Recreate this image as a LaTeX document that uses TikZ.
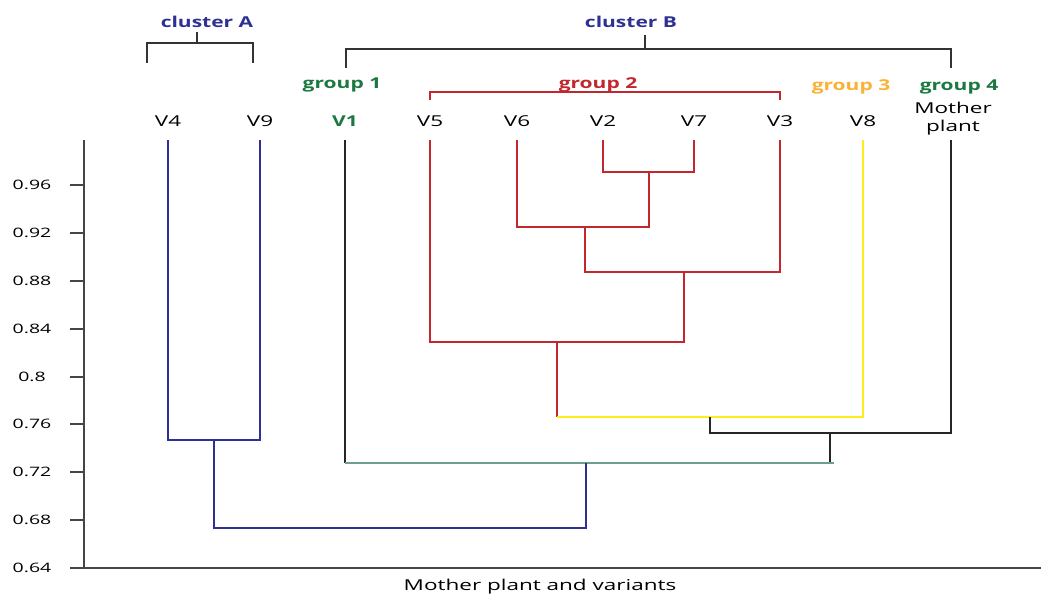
\documentclass[tikz,border=0pt]{standalone}
\usepackage{fontspec}
\setmainfont{Open Sans}
\usepackage{tikz}
\usetikzlibrary{positioning}
\definecolor{clblue}{HTML}{2E3192}
\definecolor{grred}{HTML}{C1272D}
\definecolor{gryellow}{HTML}{FFEC1A}
\definecolor{grorange}{HTML}{F9B233}
\definecolor{grgreen}{HTML}{1A7840}
\definecolor{lngreen}{HTML}{6E9E8C}
\definecolor{axgray}{HTML}{454545}

\begin{document}
\begin{tikzpicture}[x=1pt, y=-1pt,
    every node/.style={inner sep=0pt},
    lbl/.style={font=\fontsize{15}{18}\selectfont, xscale=1.5, anchor=base},
    grp/.style={font=\fontsize{15}{18}\selectfont\bfseries, xscale=1.4, anchor=base},
    tick/.style={font=\fontsize{13}{15}\selectfont, xscale=1.5},
    link/.style={line width=1.2pt, black!85},
    brk/.style={line width=1.2pt, black!80}
]
\useasboundingbox (0,0) rectangle (1041,598);
% axis and ticks
\draw[axgray, line width=1.6pt] (84,140) -- (84,568) -- (1041,568);
\foreach \v/\y [count=\i] in {0.96/185,0.92/233,0.88/281,0.84/329,0.8/377,0.76/424,0.72/472,0.68/520,0.64/568}{
  \draw[axgray, line width=1.3pt] (70,\y) -- (84,\y);
  \node[tick] (tk\i) at (32,\y) {\v};
}
\node[lbl] (xlab) at (540,590) {Mother plant and variants};
% leaves
\foreach \x/\n/\txt in {168/4/V4,260/9/V9,430/5/V5,517/6/V6,603/2/V2,694/7/V7,780/3/V3,863/8/V8}{
  \node[lbl] (v\n) at (\x,126) {\txt};
  \coordinate (t\n) at (\x,140);
}
\node[grp, text=grgreen] (v1) at (345,126) {V1};
\coordinate (t1) at (345,140);
\node[lbl, align=center] (vM) at (953,131) {Mother\\plant};
\coordinate (tM) at (951,140);
% cluster and group labels
\node[grp, text=clblue] (cA) at (207,27) {cluster A};
\node[grp, text=clblue] (cB) at (631,27) {cluster B};
\node[grp, text=grgreen] (g1) at (342,88) {group 1};
\node[grp, text=grred] (g2) at (598,88) {group 2};
\node[grp, text=grorange] (g3) at (851,90) {group 3};
\node[grp, text=grgreen] (g4) at (959,90) {group 4};
% brackets
\draw[brk] (197,32) -- (197,43);
\draw[brk] (147,63) |- (253,43) -- (253,63);
\draw[brk] (645,35) -- (645,49);
\draw[brk] (346,68) |- (951,49) -- (951,68);
\draw[line width=1.2pt, grred] (430,100) |- (780,92) -- (780,100);
% merge points
\coordinate (m27) at (649,172);
\coordinate (m627) at (585,227);
\coordinate (m3) at (684,272);
\coordinate (m5) at (557,342);
\coordinate (m8) at (710,417);
\coordinate (mM) at (830,433);
\coordinate (mB) at (586,463);
\coordinate (mA) at (214,440);
\coordinate (root) at (400,528);
% dendrogram
\draw[link, grred] (t2) |- (m27) -| (t7);
\draw[link, grred] (t6) |- (m627) -| (m27);
\draw[link, grred] (m627) |- (m3) -| (t3);
\draw[link, grred] (t5) |- (m5) -| (m3);
\draw[link, grred] (m5) -- (m5 |- m8);
\draw[link, gryellow] (m5 |- m8) -| (t8);
\draw[link] (m8) |- (mM) -| (tM);
\draw[link] (t1) -- (t1 |- mB);
\draw[link] (mM) -- (mM |- mB);
\draw[link, lngreen] (t1 |- mB) -- ([xshift=4pt]mM |- mB);
\draw[link, clblue] (t4) |- (mA) -| (t9);
\draw[link, clblue] (mA) |- (root) -| (mB);
\end{tikzpicture}
\end{document}
